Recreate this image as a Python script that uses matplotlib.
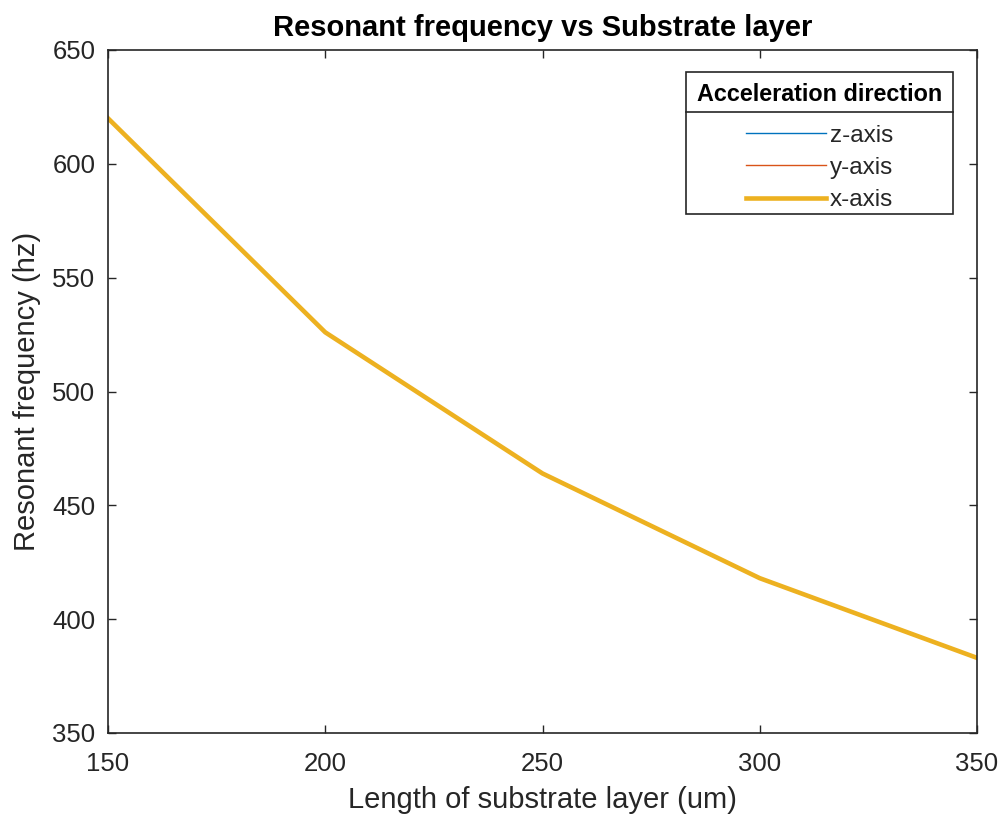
import matplotlib
matplotlib.use("Agg")
import matplotlib.pyplot as plt
from matplotlib.lines import Line2D
from matplotlib.patches import Rectangle

plt.rcParams['font.family'] = ['Liberation Sans', 'DejaVu Sans']

length_um = [150, 200, 250, 300, 350]
freq_z = [620, 526, 464, 418, 383]
freq_y = [620, 526, 464, 418, 383]
freq_x = [620, 526, 464, 418, 383]
series_labels = ['z-axis', 'y-axis', 'x-axis']
x_ticks = [150, 200, 250, 300, 350]
y_ticks = [350, 400, 450, 500, 550, 600, 650]

W, H = 1001, 823
fig = plt.figure(figsize=(W / 100, H / 100), dpi=100)
ax = fig.add_axes([108 / W, 1 - 733 / H, (977 - 108) / W, (733 - 50) / H])

gray = '#262626'
ax.plot(length_um, freq_z, color='#0072BD', lw=1.0, label=series_labels[0])
ax.plot(length_um, freq_y, color='#D95319', lw=1.0, label=series_labels[1])
ax.plot(length_um, freq_x, color='#EDB120', lw=3.3, label=series_labels[2])

ax.set_xlim(150, 350)
ax.set_ylim(350, 650)
ax.set_xticks(x_ticks)
ax.set_yticks(y_ticks)
ax.tick_params(direction='in', top=True, right=True, length=6, width=1,
               colors=gray, labelsize=18.5)
ax.tick_params(axis='x', pad=14)
ax.tick_params(axis='y', pad=9)
for s in ax.spines.values():
    s.set_color(gray)
    s.set_linewidth(1.2)

ax.set_xlabel('Length of substrate layer (um)', fontsize=21, color=gray, labelpad=7)
ax.set_ylabel('Resonant frequency (hz)', fontsize=21, color=gray, labelpad=8)
ax.set_title('Resonant frequency vs Substrate layer', fontsize=21, fontweight='bold',
             color='black', pad=10)

leg = ax.legend(title='Acceleration direction', loc='upper right',
                bbox_to_anchor=((953 - 108) / (977 - 108), 1 - (72 - 50) / (733 - 50)),
                fontsize=17.5, title_fontproperties={'size': 16.8, 'weight': 'bold'},
                frameon=False, handlelength=3.3, handletextpad=0.15, borderaxespad=0,
                labelspacing=0.42, borderpad=0.45)
leg._legend_box.sep = 13.5
for t in leg.get_texts():
    t.set_color(gray)

fig.canvas.draw()
bb = leg.get_window_extent()
tb = leg.get_title().get_window_extent()
ysep = tb.y0 - 6
ybot = bb.y0 + 8
ax.add_patch(Rectangle((bb.x0 / W, ybot / H), (bb.x1 - bb.x0) / W, (bb.y1 - ybot) / H,
                       transform=fig.transFigure, facecolor='white', edgecolor=gray,
                       lw=1.2, zorder=4.9, clip_on=False))
ax.add_line(Line2D([bb.x0 / W, bb.x1 / W], [ysep / H, ysep / H], color=gray, lw=1.2,
                   transform=fig.transFigure, zorder=6, clip_on=False))

fig.savefig('out.png', dpi=100)
